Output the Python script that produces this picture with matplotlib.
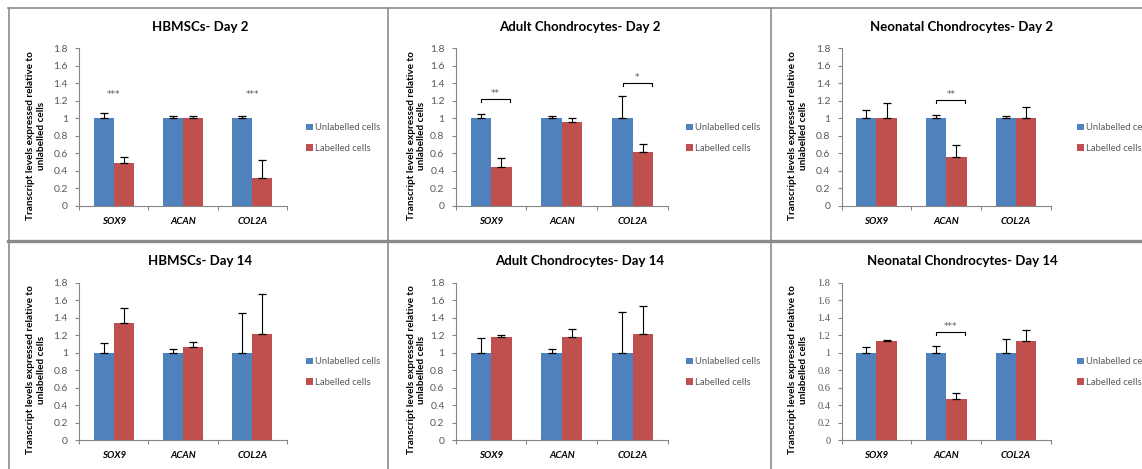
import matplotlib
matplotlib.use('Agg')
import matplotlib.pyplot as plt
from matplotlib.lines import Line2D
import numpy as np

plt.rcParams['font.family'] = ['Lato', 'DejaVu Sans']

W, H = 1142, 469

genes = ['SOX9', 'ACAN', 'COL2A']
titles = ['HBMSCs- Day 2', 'Adult Chondrocytes- Day 2', 'Neonatal Chondrocytes- Day 2',
          'HBMSCs- Day 14', 'Adult Chondrocytes- Day 14', 'Neonatal Chondrocytes- Day 14']
series_names = ['Unlabelled cells', 'Labelled cells']

unlab_mean = [[1, 1, 1]] * 6
unlab_err = [[0.06, 0.03, 0.03],
             [0.05, 0.03, 0.25],
             [0.09, 0.04, 0.03],
             [0.11, 0.04, 0.45],
             [0.17, 0.04, 0.46],
             [0.06, 0.07, 0.16]]
lab_mean = [[0.49, 1.00, 0.32],
            [0.44, 0.955, 0.61],
            [1.00, 0.56, 1.00],
            [1.335, 1.06, 1.21],
            [1.175, 1.18, 1.21],
            [1.135, 0.47, 1.135]]
lab_err = [[0.07, 0.03, 0.20],
           [0.11, 0.045, 0.09],
           [0.17, 0.13, 0.13],
           [0.175, 0.06, 0.46],
           [0.03, 0.095, 0.32],
           [0.015, 0.065, 0.12]]
# (gene index, stars, height, bracket?)
signif = [[(0, '***', 1.27, False), (2, '***', 1.27, False)],
          [(0, '**', 1.22, True), (2, '*', 1.40, True)],
          [(1, '**', 1.21, True)],
          [],
          [],
          [(1, '***', 1.235, True)]]

yticks = [0, 0.2, 0.4, 0.6, 0.8, 1, 1.2, 1.4, 1.6, 1.8]
ytick_labels = ['0', '0.2', '0.4', '0.6', '0.8', '1', '1.2', '1.4', '1.6', '1.8']

blue = '#4F81BD'
red = '#C0504D'
grey = '#595959'

# pixel layout of each panel
col_left = [79, 455.7, 841.5]
col_right = [287, 668, 1051]
row_top = [48.3, 282.7]
row_bot = [205.7, 440]
title_x = [200, 580, 962]
title_y = [27, 261]
ylab_x = [36, 416.5, 798]
ylab_y = [136, 370]
leg_x = [306, 686, 1077]
leg_y = [138, 372]

fig = plt.figure(figsize=(W / 100, H / 100), dpi=100)


def fx(px):
    return px / W


def fy(py):
    return 1 - py / H


bw = 0.29
x = np.arange(len(genes))

for i in range(6):
    r, c = divmod(i, 3)
    ax = fig.add_axes([fx(col_left[c]), fy(row_bot[r]),
                       fx(col_right[c]) - fx(col_left[c]), fy(row_top[r]) - fy(row_bot[r])])
    b1 = ax.bar(x - bw / 2, unlab_mean[i], bw, color=blue, zorder=2)
    b2 = ax.bar(x + bw / 2, lab_mean[i], bw, color=red, zorder=2)
    ax.errorbar(x - bw / 2, unlab_mean[i], yerr=[[0] * 3, unlab_err[i]], fmt='none',
                ecolor='black', elinewidth=0.8, capsize=3.2, capthick=0.9, zorder=3)
    ax.errorbar(x + bw / 2, lab_mean[i], yerr=[[0] * 3, lab_err[i]], fmt='none',
                ecolor='black', elinewidth=0.8, capsize=3.2, capthick=0.9, zorder=3)

    for g, stars, h, bracket in signif[i]:
        if bracket:
            x0, x1 = g - 0.14, g + 0.27
            ax.plot([x0, x0, x1, x1], [h - 0.03, h, h, h - 0.03], color='black', lw=0.8)
            ax.text((x0 + x1) / 2, h + 0.01, stars, ha='center', va='bottom',
                    fontsize=6.5, color=grey, family='DejaVu Sans')
        else:
            ax.text(g, h, stars, ha='center', va='center', fontsize=6.5, color=grey,
                    family='DejaVu Sans')

    ax.set_xlim(-0.5, 2.5)
    ax.set_ylim(0, 1.8)
    ax.set_yticks(yticks)
    if i == 5:
        ax.set_yticklabels(ytick_labels, family='Liberation Serif')
    else:
        ax.set_yticklabels(ytick_labels)
    ax.set_xticks(x)
    ax.set_xticklabels(genes, fontweight='bold', fontstyle='italic', fontsize=7)
    ax.set_xticks([-0.5, 0.5, 1.5, 2.5], minor=True)
    ax.tick_params(axis='x', which='major', length=0, pad=8)
    ax.tick_params(axis='x', which='minor', length=3, color='#868686', width=0.8, direction='out')
    ax.tick_params(axis='y', length=3, color='#868686', width=0.8, labelsize=7.5,
                   labelcolor=grey, pad=5)
    for s in ['top', 'right']:
        ax.spines[s].set_visible(False)
    for s in ['left', 'bottom']:
        ax.spines[s].set_color('#868686')
        ax.spines[s].set_linewidth(0.8)
    ax.set_facecolor('none')

    fig.text(fx(title_x[c]), fy(title_y[r]), titles[i], ha='center', va='center',
             fontsize=9.5, fontweight='bold')
    fig.text(fx(ylab_x[c]), fy(ylab_y[r]),
             'Transcript levels expressed relative to\nunlabelled cells',
             rotation=90, ha='center', va='center', fontsize=7.2, fontweight='bold',
             linespacing=1.2)
    fig.legend([b1, b2], series_names, loc='center left',
               bbox_to_anchor=(fx(leg_x[c]), fy(leg_y[r])), frameon=False,
               fontsize=6.8, handlelength=0.7, handleheight=0.7, handletextpad=0.25,
               labelspacing=1.2, borderpad=0, borderaxespad=0, labelcolor=grey)

# table borders
bc = '#8C8C8C'
fig.add_artist(Line2D([fx(8), 1], [fy(8.5), fy(8.5)], color=bc, lw=1.2))
fig.add_artist(Line2D([fx(8.5), fx(8.5)], [0, fy(8)], color=bc, lw=1.2))
fig.add_artist(Line2D([fx(8), 1], [fy(241), fy(241)], color=bc, lw=2.4))
for vx in [387.5, 770.5]:
    fig.add_artist(Line2D([fx(vx), fx(vx)], [0, fy(8)], color=bc, lw=1.2))

fig.savefig('out.png', dpi=100)
